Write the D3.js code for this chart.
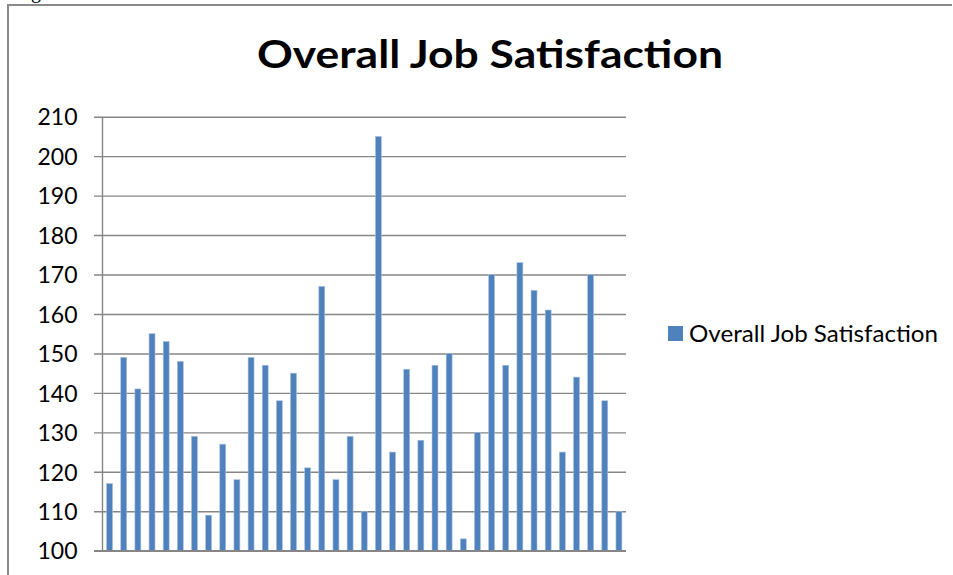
<!DOCTYPE html>
<html>
<head>
<meta charset="utf-8">
<script src="https://cdn.jsdelivr.net/npm/d3@7/dist/d3.min.js"></script>
<style>
  html, body { margin: 0; padding: 0; background: #fff; }
  svg { display: block; }
</style>
</head>
<body>
<svg id="chart" width="953" height="575"></svg>
<script>
// Overall job satisfaction scores, one per respondent group
const categories = d3.range(1, 38).map(String);
const seriesName = "Overall Job Satisfaction";
const values = [117, 149, 141, 155, 153, 148, 129, 109, 127, 118,
                149, 147, 138, 145, 121, 167, 118, 129, 110, 205,
                125, 146, 128, 147, 150, 103, 130, 170, 147, 173,
                166, 161, 125, 144, 170, 138, 110];
const yTicks = [100, 110, 120, 130, 140, 150, 160, 170, 180, 190, 200, 210];

const svg = d3.select("#chart");
const W = 953, H = 575;
const plot = { left: 102.5, right: 626, top: 116.7, bottom: 550.7 };
const gridColor = "#868686";
const barColor = "#4F81BD";
const font = "Lato, 'Open Sans', 'DejaVu Sans', sans-serif";

svg.append("rect").attr("width", W).attr("height", H).attr("fill", "#fff");

// fragment of the caption line above the chart frame
svg.append("text")
  .attr("x", 31).attr("y", -2)
  .attr("font-family", "'Liberation Serif', serif")
  .attr("font-size", 20)
  .attr("fill", "#000")
  .text("g");

// chart frame
svg.append("path")
  .attr("d", `M8,575 V5 H952`)
  .attr("fill", "none")
  .attr("stroke", "#8a8a8a")
  .attr("stroke-width", 2);

const x = d3.scaleBand()
  .domain(categories)
  .range([plot.left, plot.right])
  .paddingInner(0.58)
  .paddingOuter(0.29);

const y = d3.scaleLinear()
  .domain([100, 210])
  .range([plot.bottom, plot.top]);

// horizontal gridlines with tick stubs on the left
const yAxis = d3.axisLeft(y)
  .tickValues(yTicks)
  .tickSize(-(plot.right - plot.left))
  .tickPadding(25)
  .tickFormat(d3.format("d"));

const gy = svg.append("g")
  .attr("transform", `translate(${plot.left},0)`)
  .call(yAxis);
gy.select(".domain").remove();
gy.selectAll(".tick line")
  .attr("x1", -8.5)
  .attr("stroke", gridColor)
  .attr("stroke-width", 1.4);
gy.selectAll(".tick text")
  .attr("font-family", font)
  .attr("font-size", 23)
  .attr("fill", "#000")
  .attr("dy", "0.36em");

// vertical value axis line
svg.append("line")
  .attr("x1", plot.left).attr("x2", plot.left)
  .attr("y1", plot.top).attr("y2", plot.bottom)
  .attr("stroke", gridColor)
  .attr("stroke-width", 1.4);

// bars
svg.append("g")
  .selectAll("rect")
  .data(values)
  .join("rect")
  .attr("x", (d, i) => x(categories[i]))
  .attr("width", x.bandwidth())
  .attr("y", d => y(d))
  .attr("height", d => y(100) - y(d))
  .attr("fill", barColor)
  .attr("stroke", "#a9c1e0")
  .attr("stroke-width", 0.6);

// category axis baseline
svg.append("line")
  .attr("x1", plot.left - 8.5).attr("x2", plot.right)
  .attr("y1", plot.bottom).attr("y2", plot.bottom)
  .attr("stroke", gridColor)
  .attr("stroke-width", 1.4);

// title
svg.append("text")
  .attr("x", 257).attr("y", 67.5)
  .attr("font-family", font)
  .attr("font-weight", 700)
  .attr("font-size", 39)
  .attr("textLength", 466)
  .attr("lengthAdjust", "spacingAndGlyphs")
  .attr("fill", "#000")
  .text("Overall Job Satisfaction");

// legend
const legend = svg.append("g");
legend.append("rect")
  .attr("x", 668).attr("y", 326)
  .attr("width", 15).attr("height", 15)
  .attr("fill", barColor);
legend.append("text")
  .attr("x", 689).attr("y", 342)
  .attr("font-family", font)
  .attr("font-size", 23)
  .attr("textLength", 249)
  .attr("lengthAdjust", "spacingAndGlyphs")
  .attr("fill", "#000")
  .text(seriesName);
</script>
</body>
</html>
